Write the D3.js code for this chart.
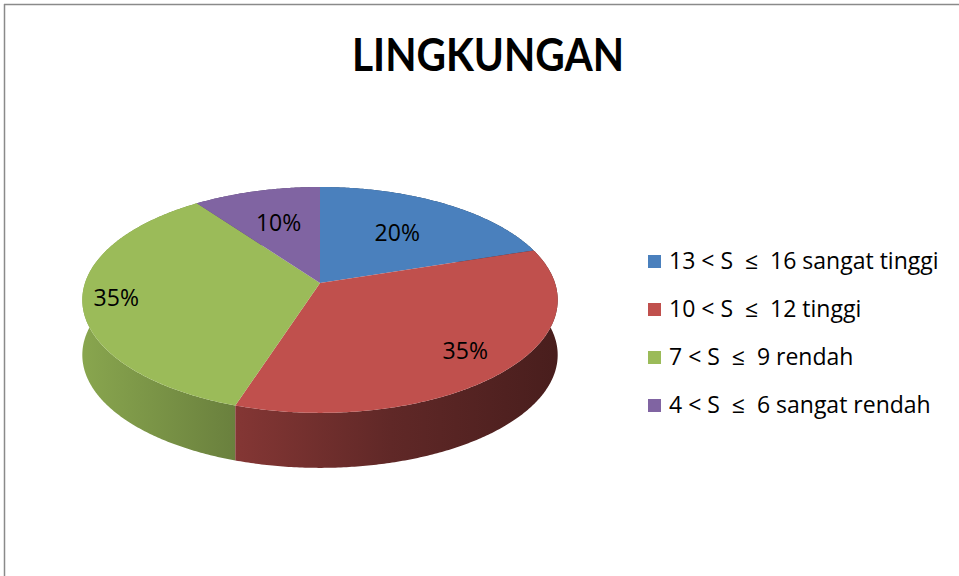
<!DOCTYPE html>
<html>
<head>
<meta charset="utf-8">
<title>Lingkungan</title>
<style>
    html, body { margin: 0; padding: 0; background: #fff; }
    svg { display: block; font-family: "Open Sans", Lato, sans-serif; }
    .legend text { white-space: pre; }
</style>
</head>
<body>
<svg width="959" height="576"></svg>
<script src="https://d3js.org/d3.v7.min.js"></script>
<script>
    // data
    var title = "LINGKUNGAN";
    var categories = ["13 < S  \u2264  16 sangat tinggi", "10 < S  \u2264  12 tinggi", "7 < S  \u2264  9 rendah", "4 < S  \u2264  6 sangat rendah"];
    var values = [20, 35, 35, 10];
    var colors = ["#4a80bd", "#c0504d", "#9bbb59", "#8064a2"];
    // how far out (fraction of radius) each data label sits, Excel best-fit style
    var labelRadius = [0.6, 0.8, 0.86, 0.62];

    var svg = d3.select("svg"),
        width = +svg.attr("width"),
        height = +svg.attr("height");

    // frame lines (top and left only)
    svg.append("line").attr("x1", 4).attr("x2", width).attr("y1", 4.5).attr("y2", 4.5)
        .attr("stroke", "#8a8a8a").attr("stroke-width", 1.5);
    svg.append("line").attr("x1", 4.5).attr("x2", 4.5).attr("y1", 4).attr("y2", height)
        .attr("stroke", "#8a8a8a").attr("stroke-width", 1.5);

    svg.append("text")
        .attr("x", 488).attr("y", 71)
        .attr("text-anchor", "middle")
        .attr("font-family", "Lato, sans-serif")
        .attr("font-weight", "bold")
        .attr("font-size", 45)
        .attr("textLength", 272)
        .attr("lengthAdjust", "spacingAndGlyphs")
        .text(title);

    // 3D pie geometry: tilted disc with a bit of perspective
    var cx = 320, cy = 283, rx = 235, ry = 110.4, persp = 0.15, depth = 55;

    function project(angle, r, dy) {
        var u = Math.sin(angle) * r,
            v = -Math.cos(angle) * r,
            s = 1 / (1 - persp * v);
        return [cx + rx * u * s, cy + ry * v * s + (dy || 0)];
    }

    function arcPoints(a0, a1, dy) {
        var n = Math.max(2, Math.ceil((a1 - a0) / 0.01)), pts = [];
        for (var i = 0; i <= n; i++) pts.push(project(a0 + (a1 - a0) * i / n, 1, dy));
        return pts;
    }

    var pie = d3.pie().sort(null).value(function(d) { return d; });
    var arcs = pie(values);
    var line = d3.line();

    var defs = svg.append("defs");
    arcs.forEach(function(d, i) {
        var g = defs.append("linearGradient")
            .attr("id", "side-" + i)
            .attr("gradientUnits", "userSpaceOnUse")
            .attr("x1", cx - rx).attr("x2", cx + rx)
            .attr("y1", 0).attr("y2", 0);
        var c = d3.rgb(colors[i]);
        [[0, 0.88], [0.33, 0.68], [0.65, 0.50], [1, 0.38]].forEach(function(st) {
            g.append("stop").attr("offset", st[0])
                .attr("stop-color", d3.rgb(c.r * st[1], c.g * st[1], c.b * st[1]).formatHex());
        });
    });

    // outer walls, back ones first
    var order = d3.range(arcs.length).sort(function(a, b) {
        var ma = (arcs[a].startAngle + arcs[a].endAngle) / 2,
            mb = (arcs[b].startAngle + arcs[b].endAngle) / 2;
        return Math.cos(mb) - Math.cos(ma);
    });
    var walls = svg.append("g");
    order.forEach(function(i) {
        var d = arcs[i];
        var top = arcPoints(d.startAngle, d.endAngle, 0),
            bottom = arcPoints(d.startAngle, d.endAngle, depth).reverse();
        walls.append("path")
            .attr("d", line(top.concat(bottom)) + "Z")
            .attr("fill", "url(#side-" + i + ")");
    });

    // top faces
    var faces = svg.append("g");
    arcs.forEach(function(d, i) {
        var pts = [[cx, cy]].concat(arcPoints(d.startAngle, d.endAngle, 0));
        faces.append("path")
            .attr("d", line(pts) + "Z")
            .attr("fill", colors[i]);
    });

    // percentage labels
    var total = d3.sum(values);
    arcs.forEach(function(d, i) {
        var p = project((d.startAngle + d.endAngle) / 2, labelRadius[i], 0);
        svg.append("text")
            .attr("x", p[0]).attr("y", p[1] + 8)
            .attr("text-anchor", "middle")
            .attr("font-size", 23)
            .attr("fill", "#000")
            .text(Math.round(d.value / total * 100) + "%");
    });

    // legend
    var legend = svg.append("g").attr("class", "legend").attr("transform", "translate(648,255)");
    categories.forEach(function(c, i) {
        var row = legend.append("g").attr("transform", "translate(0," + (i * 48) + ")");
        row.append("rect").attr("width", 13).attr("height", 13).attr("fill", colors[i]);
        row.append("text").attr("x", 21).attr("y", 14)
            .attr("font-size", 23)
            .attr("fill", "#000")
            .text(c);
    });
</script>
</body>
</html>
